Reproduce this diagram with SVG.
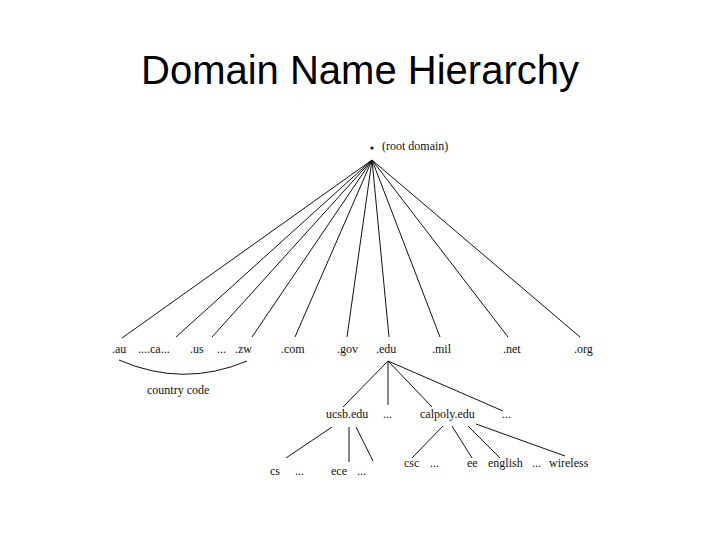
<svg xmlns="http://www.w3.org/2000/svg" width="720" height="540" viewBox="0 0 720 540">
<style>
.t{font-family:"Liberation Serif",serif;font-size:12px;fill:#111}
.h{font-family:"Liberation Sans",Arial,sans-serif;font-size:40px;fill:#000}
#c line,#c path{stroke:#111;stroke-width:1;fill:none}
</style>
<rect width="720" height="540" fill="#fff"/>
<text class="h" x="360" y="84" text-anchor="middle">Domain Name Hierarchy</text>
<g id="c">
<line x1="372" y1="160" x2="122" y2="338"/>
<line x1="372" y1="160" x2="176" y2="337"/>
<line x1="372" y1="160" x2="212" y2="337"/>
<line x1="372" y1="160" x2="252" y2="337"/>
<line x1="372" y1="160" x2="295" y2="337"/>
<line x1="372" y1="160" x2="347" y2="337"/>
<line x1="372" y1="160" x2="389" y2="337"/>
<line x1="372" y1="160" x2="440" y2="337"/>
<line x1="372" y1="160" x2="508" y2="337"/>
<line x1="372" y1="160" x2="580" y2="337"/>
<path d="M119 360 Q183 388 247 361"/>
<line x1="388" y1="361" x2="343" y2="407"/>
<line x1="388" y1="361" x2="388" y2="405"/>
<line x1="388" y1="361" x2="432" y2="407"/>
<line x1="388" y1="361" x2="503" y2="411"/>
<line x1="332" y1="427" x2="286" y2="458"/>
<line x1="349" y1="427" x2="349" y2="462"/>
<line x1="356" y1="427" x2="373" y2="461"/>
<line x1="443" y1="426" x2="412" y2="458"/>
<line x1="452" y1="426" x2="472" y2="458"/>
<line x1="468" y1="426" x2="500" y2="458"/>
<line x1="476" y1="424" x2="565" y2="456"/>
</g>
<g id="root"><circle cx="372" cy="148" r="1.6" fill="#111"/><text class="t" x="382" y="150">(root domain)</text></g>
<g id="tld">
<text class="t" x="112" y="353">.au</text>
<text class="t" x="138" y="353">....ca...</text>
<text class="t" x="190" y="353">.us</text>
<text class="t" x="217" y="353">...</text>
<text class="t" x="235" y="353">.zw</text>
<text class="t" x="281" y="353">.com</text>
<text class="t" x="337" y="353">.gov</text>
<text class="t" x="376" y="353">.edu</text>
<text class="t" x="432" y="353">.mil</text>
<text class="t" x="503" y="353">.net</text>
<text class="t" x="574" y="353">.org</text>
</g>
<g id="cc"><text class="t" x="147" y="394">country code</text></g>
<g id="second">
<text class="t" x="326" y="418">ucsb.edu</text>
<text class="t" x="383" y="418">...</text>
<text class="t" x="420" y="418">calpoly.edu</text>
<text class="t" x="502" y="418">...</text>
</g>
<g id="third">
<text class="t" x="270" y="475">cs</text>
<text class="t" x="295" y="475">...</text>
<text class="t" x="331" y="475">ece</text>
<text class="t" x="357" y="475">...</text>
<text class="t" x="404" y="467">csc</text>
<text class="t" x="430" y="467">...</text>
<text class="t" x="467" y="467">ee</text>
<text class="t" x="488" y="467">english</text>
<text class="t" x="532" y="467">...</text>
<text class="t" x="549" y="467">wireless</text>
</g>
</svg>
